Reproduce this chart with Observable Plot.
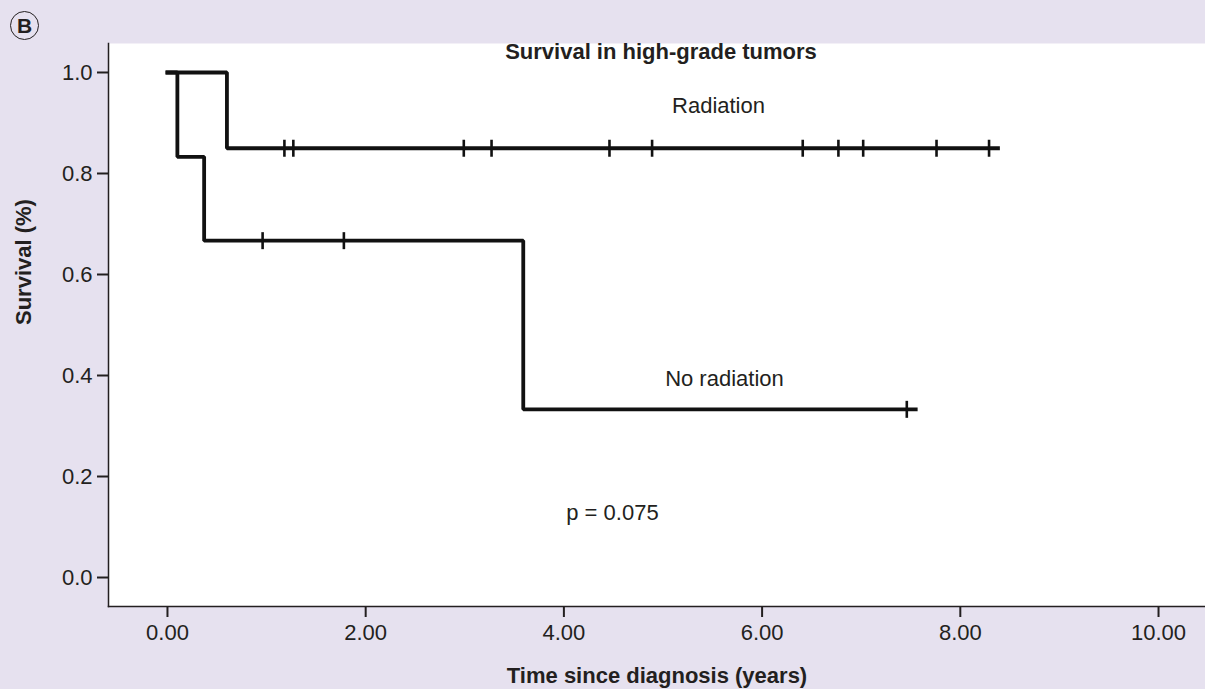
<!DOCTYPE html>
<html>
<head>
<meta charset="utf-8">
<script src="https://cdn.jsdelivr.net/npm/d3@7"></script>
<script src="https://cdn.jsdelivr.net/npm/@observablehq/plot@0.6"></script>
<style>
  html, body { margin: 0; padding: 0; background: #e6e1ef; }
  #wrap { position: relative; width: 1205px; height: 689px; overflow: hidden; }
  #badge { position: absolute; left: 10px; top: 11px; width: 27px; height: 27px;
    border: 1.8px solid #231f20; border-radius: 50%; font: bold 21px "Liberation Sans", Arial, sans-serif;
    color: #231f20; text-align: center; line-height: 27px; }
</style>
</head>
<body>
<div id="wrap"><div id="badge">B</div></div>
<script>
// Kaplan-Meier step points (time in years, survival proportion)
const radiationTimes = [0, 0.60, 8.38];
const radiationSurvival = [1.0, 0.85, 0.85];
const radiationCensored = [1.18, 1.27, 2.99, 3.27, 4.46, 4.89, 6.41, 6.77, 7.02, 7.76, 8.29];

const noRadiationTimes = [0, 0.10, 0.37, 3.59, 7.55];
const noRadiationSurvival = [1.0, 0.833, 0.667, 0.333, 0.333];
const noRadiationCensored = [0.96, 1.78, 7.46];

const xTicks = [0, 2, 4, 6, 8, 10];
const yTicks = [0, 0.2, 0.4, 0.6, 0.8, 1.0];

const labels = [
  {text: "Radiation", t: 5.56, s: 0.934},
  {text: "No radiation", t: 5.62, s: 0.393},
  {text: "p = 0.075", t: 4.49, s: 0.128}
];

function toPoints(times, surv) { return times.map((t, i) => ({t, s: surv[i]})); }
function stepAt(times, surv, x) {
  let v = surv[0];
  for (let i = 0; i < times.length; i++) if (times[i] <= x) v = surv[i];
  return v;
}
const radPts = toPoints(radiationTimes, radiationSurvival);
const noRadPts = toPoints(noRadiationTimes, noRadiationSurvival);
const censor = [
  ...radiationCensored.map(t => ({t, s: stepAt(radiationTimes, radiationSurvival, t)})),
  ...noRadiationCensored.map(t => ({t, s: stepAt(noRadiationTimes, noRadiationSurvival, t)}))
];

const vbar = { draw(context, size) { const h = Math.sqrt(size / Math.PI); context.moveTo(0, -h); context.lineTo(0, h); } };

const ink = "#231f20";
const font = "'Liberation Sans', Arial, Helvetica, sans-serif";
const fs = 22;

const chart = Plot.plot({
  width: 1205, height: 689,
  marginLeft: 108, marginRight: 0, marginTop: 43, marginBottom: 83,
  style: {background: "#e6e1ef", fontFamily: font, fontSize: fs + "px", color: ink},
  x: {domain: [-0.595, 10.474]},
  y: {domain: [-0.0574, 1.0574]},
  marks: [
    Plot.frame({fill: "white", stroke: null}),
    Plot.axisX({ticks: xTicks, tickFormat: d => d.toFixed(2), tickSize: 11, tickPadding: 7, strokeWidth: 2, stroke: ink, fill: ink, fontSize: fs, label: null}),
    Plot.axisY({ticks: yTicks, tickFormat: d => d.toFixed(1), tickSize: 11, tickPadding: 5, strokeWidth: 2, stroke: ink, fill: ink, fontSize: fs, label: null}),
    Plot.frame({anchor: "left", stroke: ink, strokeWidth: 1.5}),
    Plot.frame({anchor: "bottom", stroke: ink, strokeWidth: 1.5}),
    Plot.line(radPts, {x: "t", y: "s", curve: "step-after", stroke: "#111", strokeWidth: 3.8, strokeLinecap: "square", strokeLinejoin: "miter"}),
    Plot.line(noRadPts, {x: "t", y: "s", curve: "step-after", stroke: "#111", strokeWidth: 3.8, strokeLinecap: "square", strokeLinejoin: "miter"}),
    Plot.dot(censor, {x: "t", y: "s", symbol: vbar, r: 8.5, fill: "none", stroke: "#111", strokeWidth: 2.6}),
    Plot.text(labels, {x: "t", y: "s", text: "text", fontSize: fs, fill: ink}),
    Plot.text(["Survival in high-grade tumors"], {frameAnchor: "top", lineAnchor: "top", dx: 4, dy: 0, fontSize: fs, fontWeight: "bold", fill: ink}),
    Plot.text(["Time since diagnosis (years)"], {frameAnchor: "bottom", lineAnchor: "middle", dy: 69, fontSize: fs, fontWeight: "bold", fill: ink}),
    Plot.text(["Survival (%)"], {frameAnchor: "left", rotate: -90, dx: -85, fontSize: fs, fontWeight: "bold", fill: ink})
  ]
});
document.getElementById("wrap").prepend(chart);
</script>
</body>
</html>
